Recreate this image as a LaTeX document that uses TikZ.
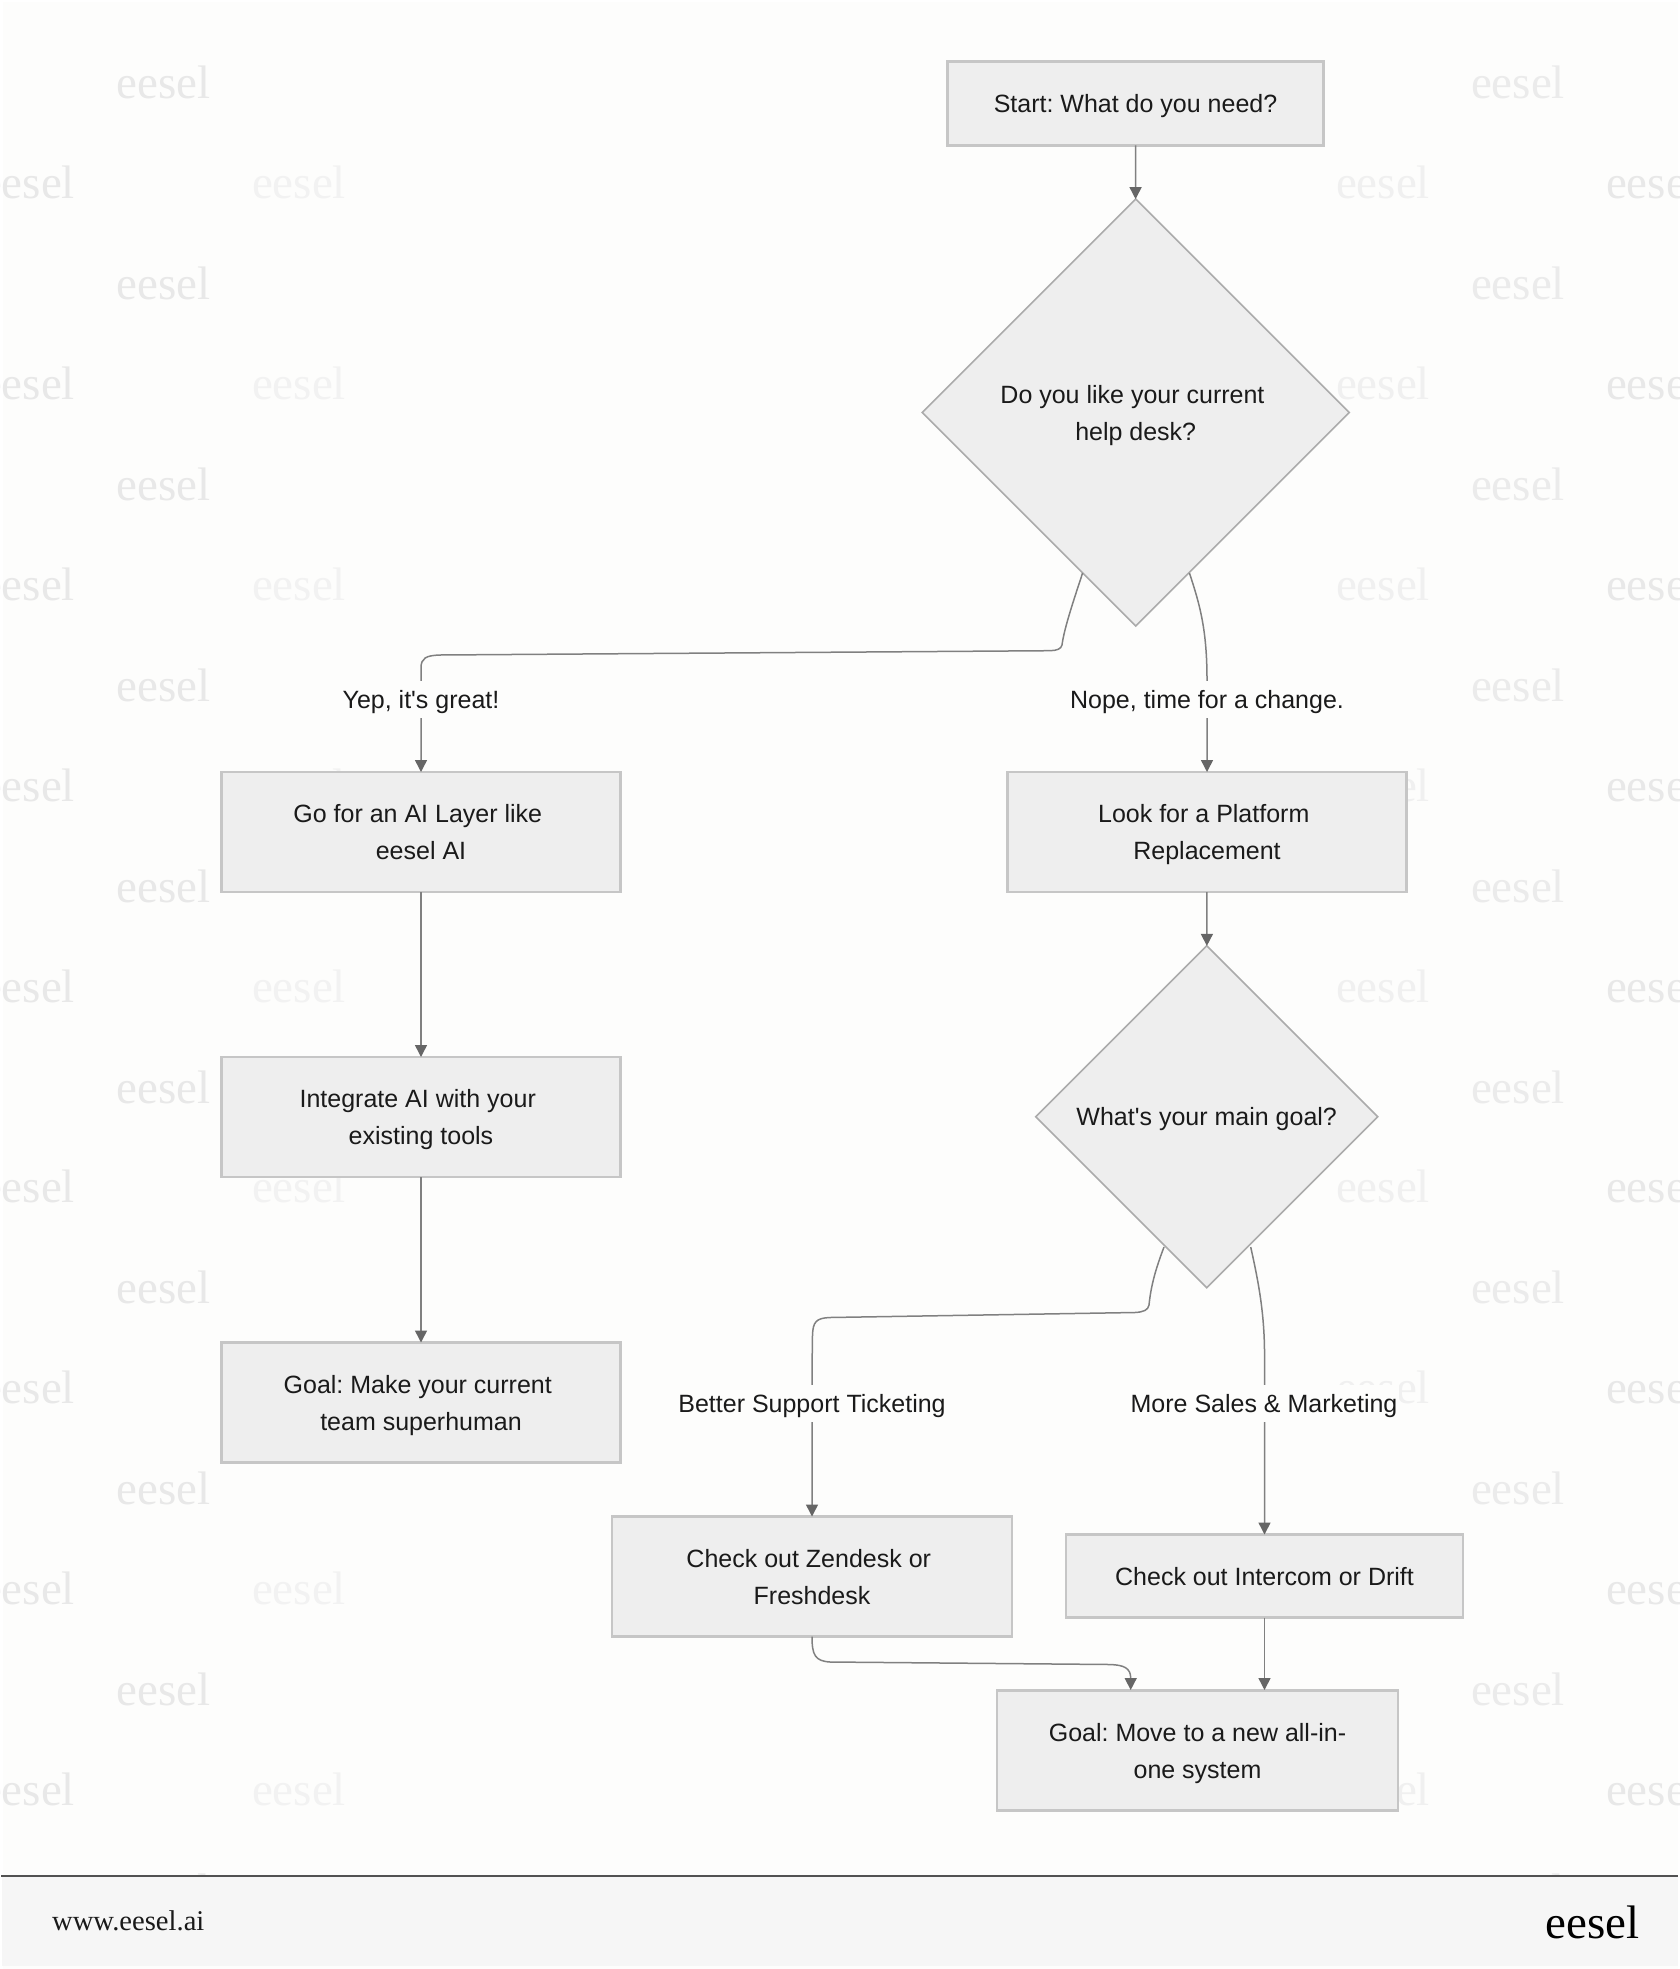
\documentclass[tikz,border=0pt]{standalone}
\usepackage{fontspec}
\usepackage{tikz}
\usetikzlibrary{shapes.geometric,arrows.meta}
\setmainfont{Liberation Sans}
\newfontfamily\markfont{Liberation Serif}
\newcommand{\lineup}{\rule[-9.3pt]{0pt}{37pt}}
\newcommand{\brk}{\hspace*{6.5pt}\\\lineup}
\definecolor{pagebg}{HTML}{FDFDFC}
\definecolor{footbg}{HTML}{F6F6F6}
\definecolor{boxbg}{HTML}{EEEEEE}
\definecolor{boxline}{HTML}{C6C6C6}
\definecolor{diamline}{HTML}{ABABAB}
\definecolor{linkline}{HTML}{808080}
\definecolor{tiptone}{HTML}{666666}
\definecolor{inktone}{HTML}{1A1A1A}
\tikzset{
  stepbox/.style={draw=boxline,fill=boxbg,line width=2.4pt,minimum width=#1,align=center,
    inner sep=0pt,outer sep=0pt,text=inktone,font=\fontsize{25}{37}\selectfont\frenchspacing},
  stepbox/.default=399pt,
  askbox/.style={diamond,aspect=1,draw=diamline,fill=boxbg,line width=1.6pt,minimum width=#1,
    minimum height=#1,align=center,inner sep=0pt,outer sep=0pt,text=inktone,
    font=\fontsize{25}{37}\selectfont\frenchspacing},
  linklabel/.style={fill=pagebg,inner xsep=2pt,inner ysep=0pt,minimum height=37pt,text=inktone,
    font=\fontsize{25}{37}\selectfont\frenchspacing},
  link/.style={draw=linkline,line width=1.5pt,-{Triangle[length=12pt,width=12pt,color=tiptone]}},
  markword/.style={anchor=base,font=\markfont\fontsize{47}{47}\selectfont}
}
\begin{document}
\begin{tikzpicture}[x=1pt,y=-1pt]
\useasboundingbox (0,0) rectangle (1680,1969);
\fill[white] (0,0) rectangle (1680,1969);
\fill[pagebg] (3,2) rectangle (1678,1969);

\foreach \row in {0,...,14} {
  \pgfmathsetmacro{\ybase}{99+200.8*\row}
  \pgfmathsetmacro{\ylow}{198.8+200.8*\row}
  \node[markword,text=black!9] (marka\row) at (163.5,\ybase) {eesel};
  \node[markword,text=black!8] (markb\row) at (1518,\ybase) {eesel};
  \ifnum\row<14
  \node[markword,text=black!9] (markc\row) at (28,\ylow) {eesel};
  \node[markword,text=black!5] (markd\row) at (299,\ylow) {eesel};
  \node[markword,text=black!6] (marke\row) at (1383,\ylow) {eesel};
  \node[markword,text=black!9] (markf\row) at (1653,\ylow) {eesel};
  \fi
}

\node[stepbox=376pt,minimum height=84pt] (start) at (1135.5,103.5) {\lineup Start: What do you need?};
\node[askbox=427pt] (like) at (1135.7,412.5) {\lineup Do you like your current\brk help desk?};
\node[stepbox,minimum height=120pt] (layer) at (421,832) {\lineup Go for an AI Layer like\brk eesel AI};
\node[stepbox,minimum height=120pt] (tools) at (421,1117) {\lineup Integrate AI with your\brk existing tools};
\node[stepbox,minimum height=120pt] (super) at (421,1402.5) {\lineup Goal: Make your current\brk team superhuman};
\node[stepbox,minimum height=120pt] (swap) at (1207,832) {\lineup Look for a Platform\brk Replacement};
\node[askbox=342pt] (goal) at (1206.7,1116.7) {\lineup What\textquotesingle s your main goal?};
\node[stepbox=400pt,minimum height=120pt] (zen) at (812,1576.5) {\lineup Check out Zendesk or\brk Freshdesk};
\node[stepbox=397pt,minimum height=83pt] (drift) at (1264.5,1576) {\lineup Check out Intercom or Drift};
\node[stepbox=401pt,minimum height=120pt] (allin) at (1197.5,1750.5) {\lineup Goal: Move to a new all-in-\\\lineup one system};

\coordinate (likeyes) at (1082.6,573);
\coordinate (likeno) at (1189.4,573);
\coordinate (goalyes) at (1164,1247);
\coordinate (goalno) at (1250.7,1247);
\coordinate (allintop) at (1130.7,1690);

\draw[link] (start) -- (like);
\draw[link] (likeyes) .. controls (1071,608) and (1064,630) .. (1062,645) .. controls (1061,649) and (1057,650.5) .. (1050,650.7) -- (440,655) .. controls (426,655.5) and (421,658) .. (421,668) -- (layer.north);
\draw[link] (likeno) .. controls (1200,605) and (1207,630) .. (1207,680) -- (swap.north);
\draw[link] (layer) -- (tools);
\draw[link] (tools) -- (super);
\draw[link] (swap) -- (goal);
\draw[link] (goalyes) .. controls (1156,1268) and (1151,1285) .. (1149,1305) .. controls (1148,1310) and (1144,1312) .. (1135,1312.5) -- (830,1317.5) .. controls (816,1318) and (813,1322) .. (812.5,1335) -- (812,1370) -- (zen.north);
\draw[link] (goalno) .. controls (1258,1280) and (1264,1310) .. (1264.5,1350) -- (drift.north);
\draw[link] (zen.south) .. controls (812,1655) and (815,1661) .. (830,1662) -- (1110,1664.5) .. controls (1124,1665) and (1130.7,1668) .. (allintop);
\draw[link] (drift) -- (1264.5,1690);

\node[linklabel] (yep) at (421,699.5) {\lineup Yep, it\textquotesingle s great!};
\node[linklabel] (nope) at (1207,699.5) {\lineup Nope, time for a change.};
\node[linklabel] (ticket) at (812,1403) {\lineup Better Support Ticketing};
\node[linklabel] (sales) at (1264,1403) {\lineup More Sales \& Marketing};

\fill[footbg] (2,1877) rectangle (1678,1966);
\draw[draw=black!68,line width=1.4pt] (1,1876) -- (1678,1876);
\node[anchor=base west,inner sep=0pt,text=inktone,font=\markfont\fontsize{28.6}{28.6}\selectfont] (site) at (52,1930) {www.eesel.ai};
\node[anchor=base east,inner sep=0pt,text=black,font=\markfont\fontsize{47}{47}\selectfont] (brand) at (1640,1938) {eesel};
\end{tikzpicture}
\end{document}
